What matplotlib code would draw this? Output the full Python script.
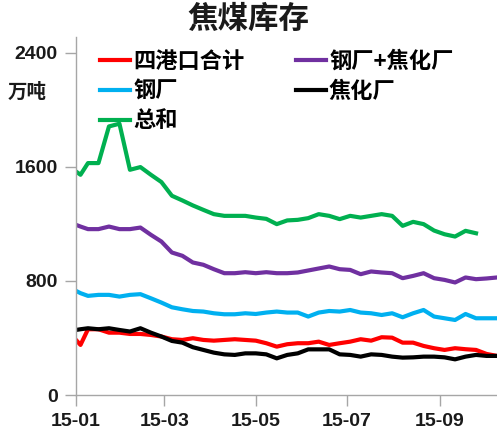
import pandas as pd
import matplotlib
matplotlib.use("Agg")
import matplotlib.pyplot as plt
import matplotlib.dates as mdates

# ------------------ Data -----------------

dates = ["2015-01-01", "2015-01-04",
         "2015-01-09", "2015-01-16", "2015-01-23", "2015-01-30",
         "2015-02-06", "2015-02-13", "2015-02-20", "2015-02-27",
         "2015-03-06", "2015-03-13", "2015-03-20", "2015-03-27",
         "2015-04-03", "2015-04-10", "2015-04-17", "2015-04-24",
         "2015-05-01", "2015-05-08", "2015-05-15", "2015-05-22",
         "2015-05-29", "2015-06-05", "2015-06-12", "2015-06-19",
         "2015-06-26", "2015-07-03", "2015-07-10", "2015-07-17",
         "2015-07-24", "2015-07-31", "2015-08-07", "2015-08-14",
         "2015-08-21", "2015-08-28", "2015-09-04", "2015-09-11",
         "2015-09-18", "2015-09-25", "2015-10-02", "2015-10-09"]

port4 = [386, 351,
         461, 461, 437, 437, 428, 428, 421, 410, 391, 386,
         398, 386, 381, 386, 391, 386, 381, 363, 339, 356,
         363, 363, 374, 351, 363, 374, 391, 381, 405, 402,
         367, 367, 344, 328, 316, 328, 321, 316, 288, 274]

mill_coke = [1193, 1181,
             1163, 1163, 1181, 1163, 1163, 1174, 1123, 1076, 999, 976,
             929, 913, 882, 854, 854, 861, 854, 861, 854, 854,
             859, 873, 887, 901, 882, 877, 847, 866, 859, 854,
             819, 835, 854, 819, 807, 789, 824, 812, 817, 824]

mill = [730, 714,
        695, 702, 702, 690, 702, 707, 678, 648, 615, 601,
        589, 585, 573, 566, 566, 573, 568, 578, 585, 578,
        578, 550, 578, 589, 585, 596, 578, 573, 561, 573,
        545, 573, 596, 550, 538, 526, 568, 538, 538, 538]

coke = [456, 461,
        468, 461, 468, 456, 445, 468, 437, 410, 379, 367,
        335, 316, 297, 285, 281, 292, 292, 285, 257, 281,
        292, 320, 320, 320, 285, 281, 269, 285, 281, 269,
        262, 264, 269, 269, 264, 250, 269, 281, 274, 274]

total = [1567, 1544,
         1626, 1626, 1883, 1902, 1579, 1598, 1544, 1493, 1397, 1364,
         1329, 1298, 1268, 1256, 1256, 1256, 1244, 1235, 1198, 1224,
         1228, 1240, 1268, 1256, 1233, 1256, 1244, 1256, 1268, 1256,
         1186, 1214, 1198, 1153, 1127, 1111, 1151, 1134]

x = pd.to_datetime(dates)
tick_dates = pd.to_datetime(["2015-01-01", "2015-03-01", "2015-05-01",
                             "2015-07-01", "2015-09-01"])

# ------------------ Plot -----------------

cjk = ["Noto Sans CJK SC", "DejaVu Sans"]
num_font = "Liberation Sans"

fig = plt.figure(figsize=(4.97, 4.36), dpi=100)
ax = fig.add_axes([76 / 497, 41 / 436, 1 - 76 / 497, 358 / 436])

lw = 3.0
ax.plot(x, port4, color="#FF0000", lw=lw, label="四港口合计")
ax.plot(x, mill, color="#00B0F0", lw=lw, label="钢厂")
ax.plot(x[:len(total)], total, color="#00B050", lw=lw, label="总和")
ax.plot(x, mill_coke, color="#7030A0", lw=lw, label="钢厂+焦化厂")
ax.plot(x, coke, color="#000000", lw=lw, label="焦化厂")

ax.set_ylim(0, 2510)
ax.set_yticks([0, 800, 1600, 2400])
ax.set_xlim(pd.Timestamp("2015-01-01"), pd.Timestamp("2015-10-09"))
ax.set_xticks(tick_dates)
ax.xaxis.set_major_formatter(mdates.DateFormatter("%y-%m"))

for side in ["top", "right"]:
    ax.spines[side].set_visible(False)
for side in ["left", "bottom"]:
    ax.spines[side].set_color("#a6a6a6")
    ax.spines[side].set_linewidth(1.0)
ax.tick_params(direction="out", length=8, width=1.0, color="#a6a6a6",
               labelsize=14, labelcolor="#1a1a1a", pad=5)
for lab in ax.get_xticklabels() + ax.get_yticklabels():
    lab.set_fontfamily(num_font)
    lab.set_fontweight("bold")

fig.text(0.5, 1 - 19 / 436, "焦煤库存", family=cjk, fontsize=22,
         fontweight="bold", color="#1a1a1a", ha="center", va="center")
fig.text(8 / 497, 1 - 92 / 436, "万吨", family=cjk, fontsize=14,
         fontweight="bold", color="#1a1a1a", ha="left", va="center")

leg = ax.legend(ncol=2, loc="upper left",
                bbox_to_anchor=(100 / 497, 1 - 50 / 436),
                bbox_transform=fig.transFigure, frameon=False,
                prop={"family": cjk, "size": 16, "weight": "bold"},
                handlelength=1.35, handletextpad=0.15, labelspacing=0.3,
                columnspacing=2.3, borderpad=0, borderaxespad=0)

fig.savefig("out.png", dpi=100, facecolor="white")
